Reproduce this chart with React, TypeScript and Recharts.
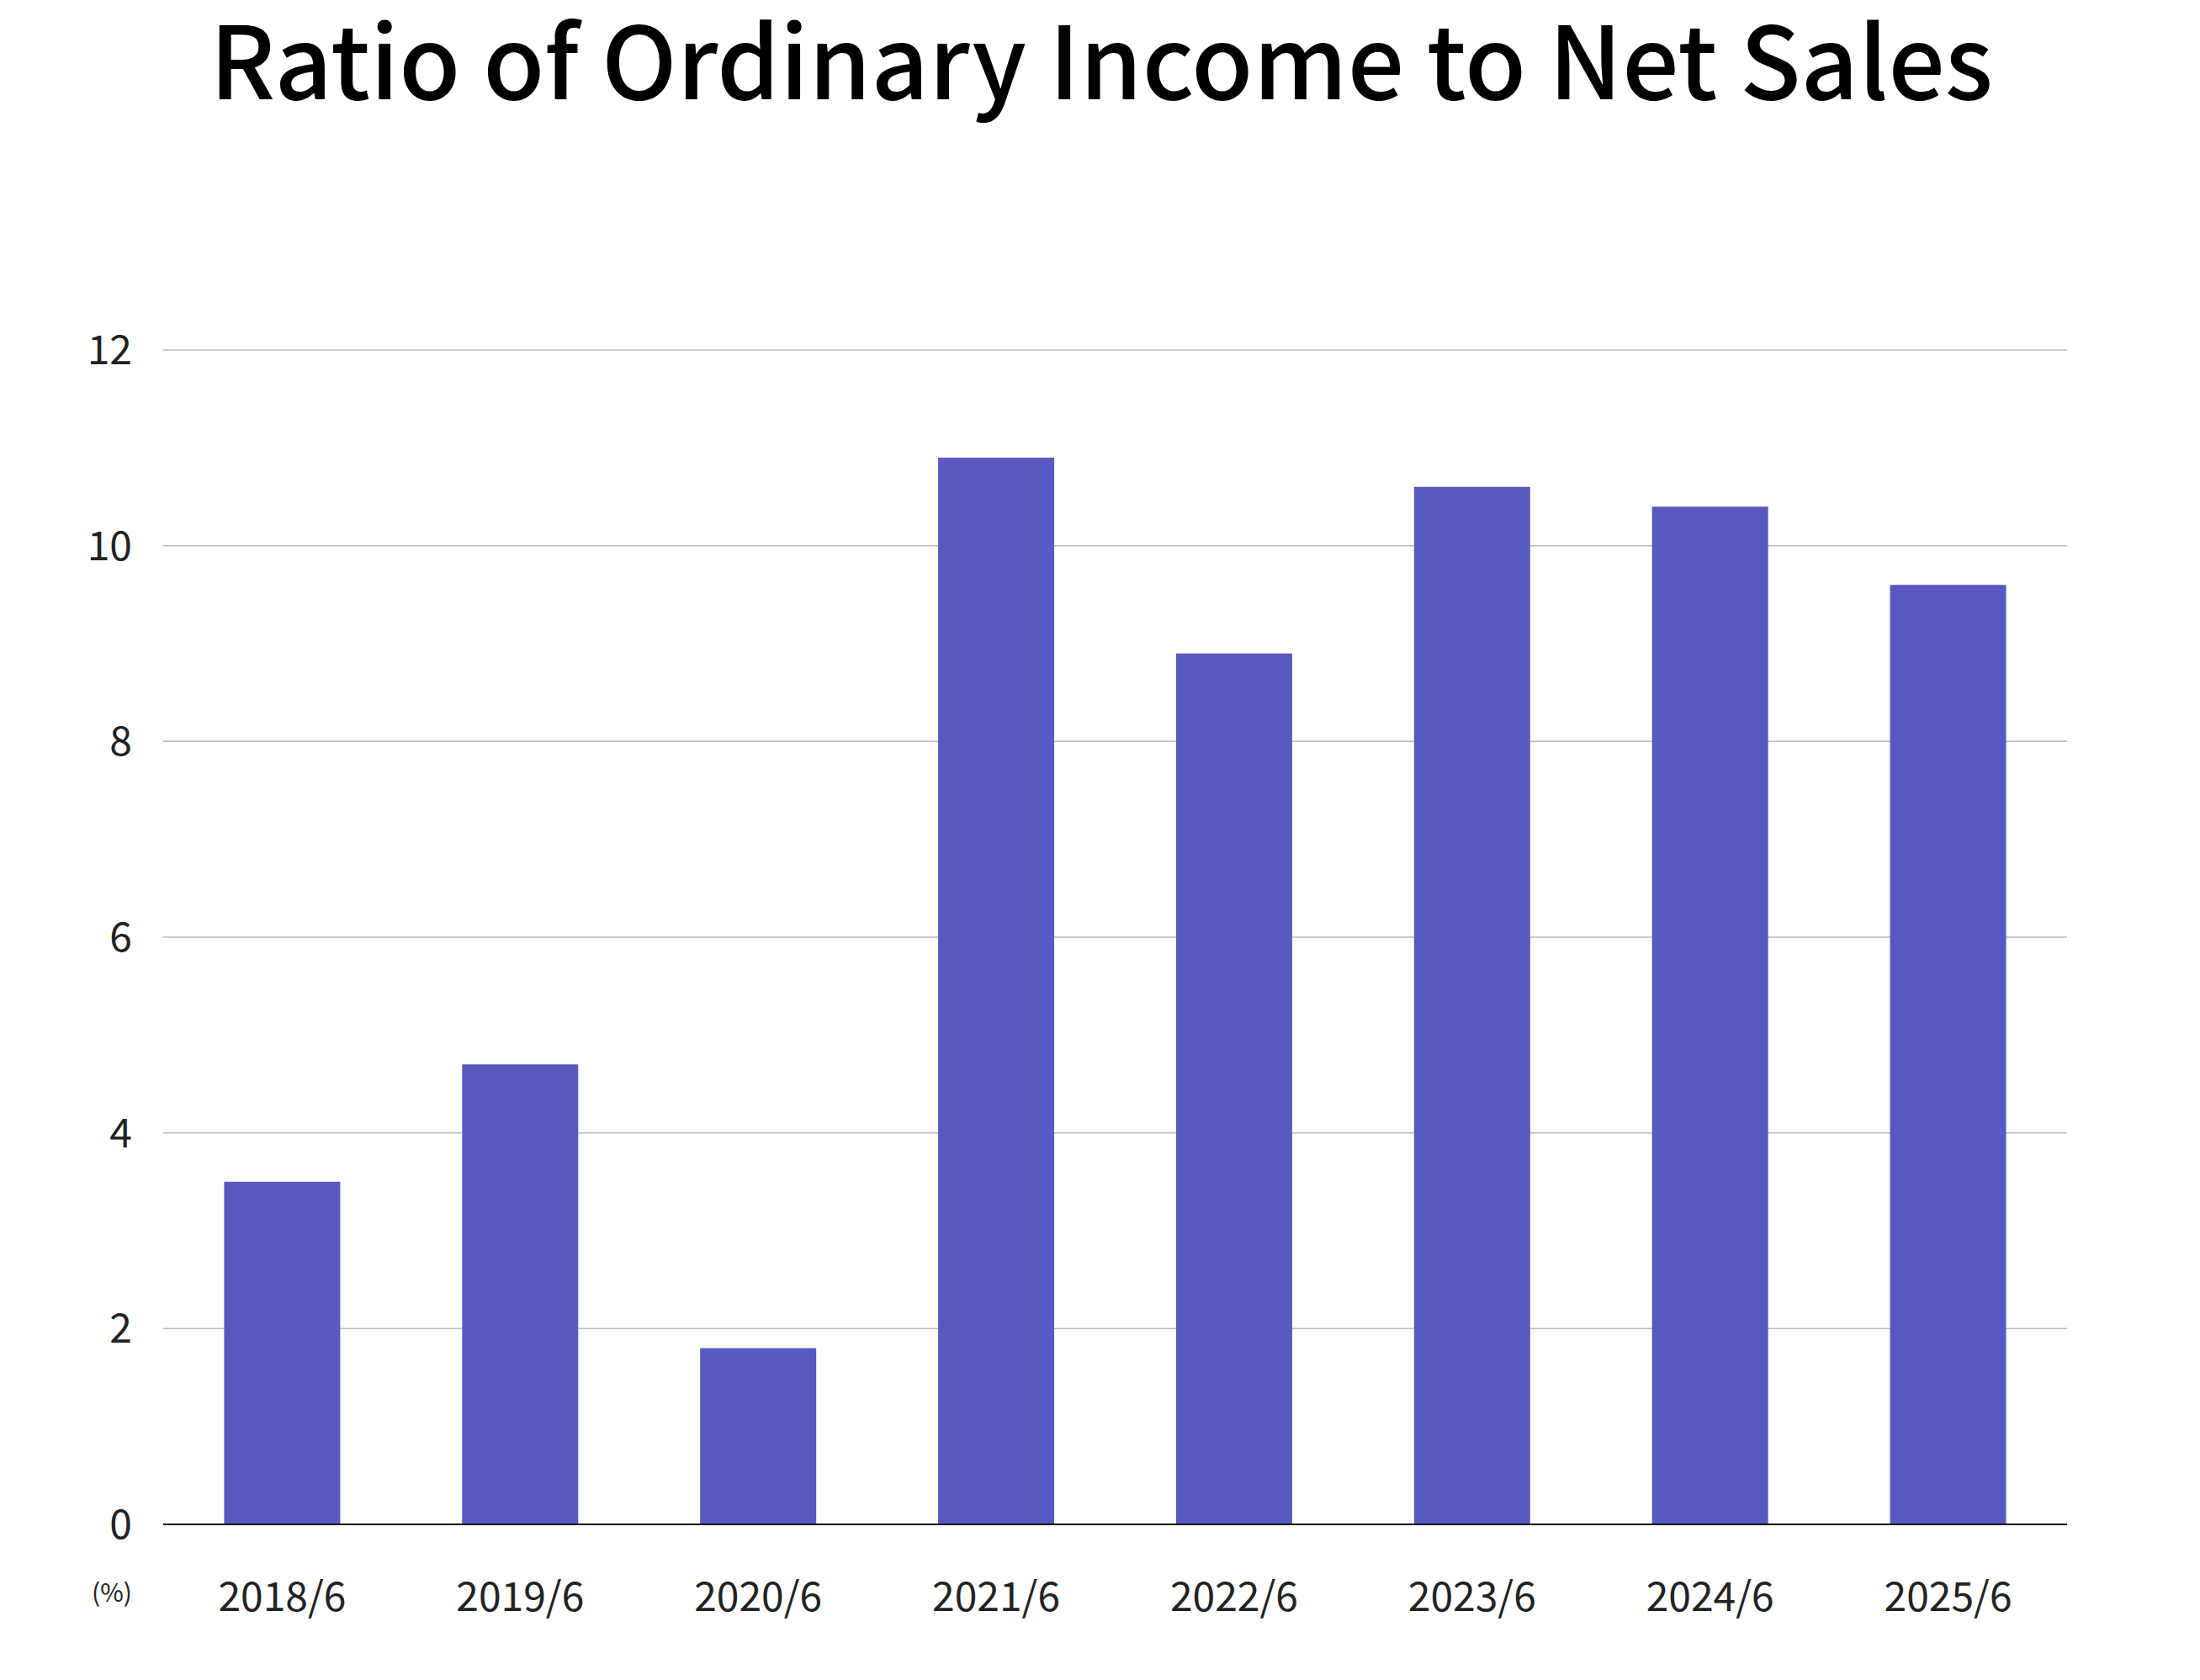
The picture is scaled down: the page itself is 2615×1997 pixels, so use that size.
import React from "react";
import { BarChart, Bar, XAxis, YAxis, CartesianGrid } from "recharts";

const categories = ["2018/6", "2019/6", "2020/6", "2021/6", "2022/6", "2023/6", "2024/6", "2025/6"];
const ratioValues = [3.5, 4.7, 1.8, 10.9, 8.9, 10.6, 10.4, 9.6];
const yTicks = [0, 2, 4, 6, 8, 10, 12];

const data = categories.map((c, i) => ({ name: c, value: ratioValues[i] }));

const FONT = '"Noto Sans CJK JP", "Noto Sans", sans-serif';

export default function App() {
  return (
    <div style={{ position: "absolute", left: 0, top: 0, width: 2615, height: 1997, background: "#fff" }}>
      <BarChart
        width={2615}
        height={1997}
        data={data}
        margin={{ top: 416, right: 158, left: 0, bottom: 0 }}
        barCategoryGap="25.6%"
      >
        <CartesianGrid vertical={false} stroke="#bbbbbb" strokeWidth={1.5} />
        <XAxis
          dataKey="name"
          height={185}
          tickLine={false}
          tickSize={0}
          tickMargin={69}
          axisLine={{ stroke: "#111", strokeWidth: 2 }}
          tick={{ fontSize: 48, fill: "#222", fontFamily: FONT }}
          interval={0}
        />
        <YAxis
          width={194}
          domain={[0, 12]}
          ticks={yTicks}
          axisLine={false}
          tickLine={false}
          tickSize={0}
          tickMargin={37}
          tick={{ fontSize: 48, fill: "#222", fontFamily: FONT }}
        />
        <Bar dataKey="value" fill="#5959c1" isAnimationActive={false} />
      </BarChart>
      <svg
        width={2615}
        height={1997}
        style={{ position: "absolute", left: 0, top: 0, pointerEvents: "none" }}
      >
        <text
          x={1309}
          y={118}
          textAnchor="middle"
          fontFamily={FONT}
          fontSize={119}
          fontWeight={500}
          fill="#000"
        >
          Ratio of Ordinary Income to Net Sales
        </text>
        <text x={157} y={1904} textAnchor="end" fontFamily={FONT} fontSize={30} fill="#222">
          (%)
        </text>
      </svg>
    </div>
  );
}
